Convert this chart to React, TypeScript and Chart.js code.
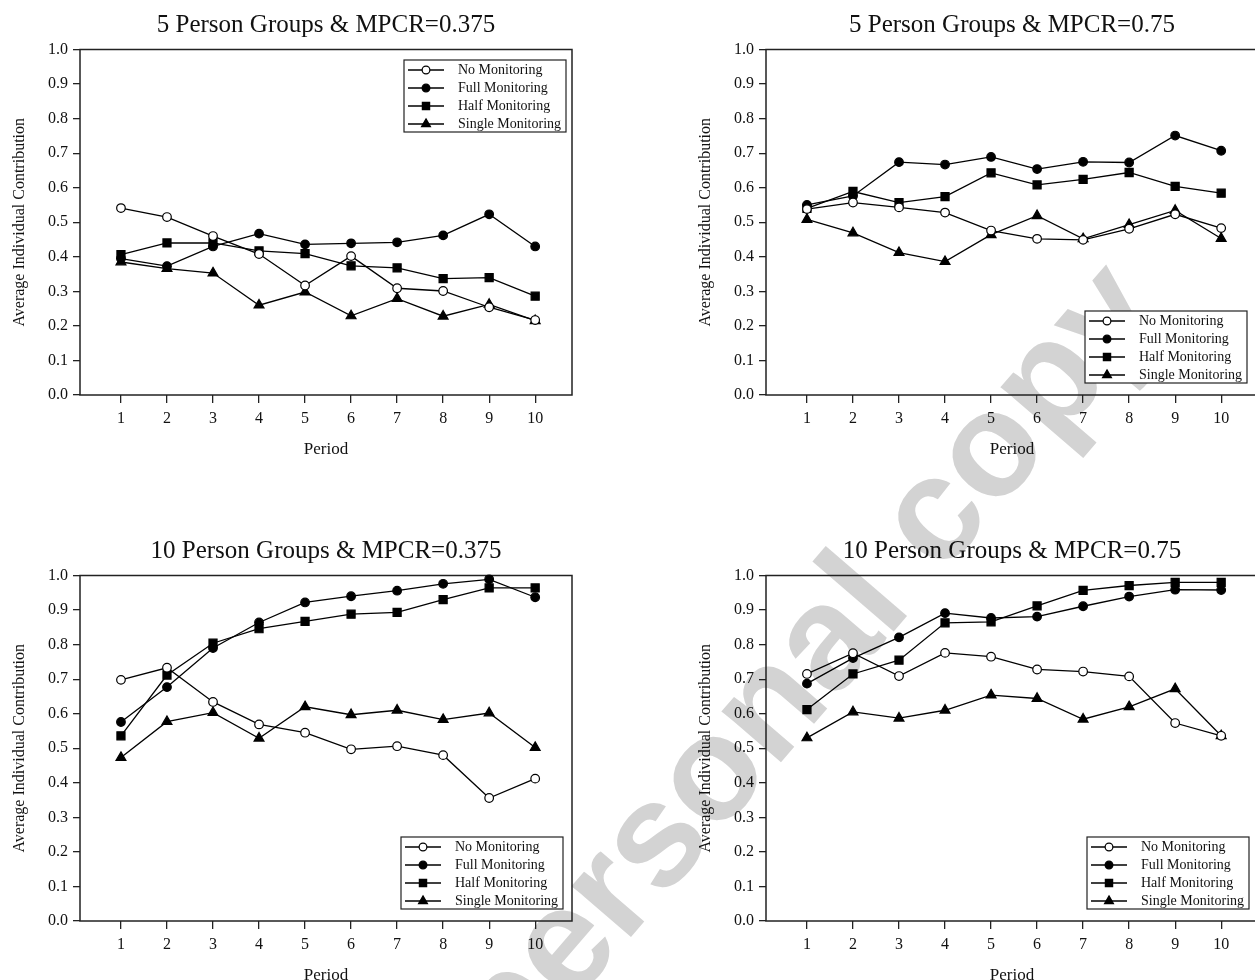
import React, { useEffect, useRef } from "react";
import { Chart, registerables } from "chart.js";

Chart.register(...registerables);

// ---------- data ----------
const periods = [1, 2, 3, 4, 5, 6, 7, 8, 9, 10];
const yTickValues = [0, 0.1, 0.2, 0.3, 0.4, 0.5, 0.6, 0.7, 0.8, 0.9, 1.0];
const seriesNames = ["No Monitoring", "Full Monitoring", "Half Monitoring", "Single Monitoring"];
const panelTitles = [
  "5 Person Groups & MPCR=0.375",
  "5 Person Groups & MPCR=0.75",
  "10 Person Groups & MPCR=0.375",
  "10 Person Groups & MPCR=0.75",
];
const xAxisTitle = "Period";
const yAxisTitle = "Average Individual Contribution";
const watermarkText = "personal copy";

// 5 Person Groups & MPCR=0.375
const noA = [0.541, 0.515, 0.46, 0.408, 0.317, 0.402, 0.309, 0.301, 0.254, 0.217];
const fullA = [0.395, 0.373, 0.43, 0.467, 0.436, 0.439, 0.442, 0.462, 0.523, 0.43];
const halfA = [0.406, 0.44, 0.44, 0.417, 0.409, 0.374, 0.368, 0.337, 0.34, 0.286];
const singleA = [0.385, 0.366, 0.353, 0.26, 0.298, 0.229, 0.279, 0.228, 0.262, 0.215];

// 5 Person Groups & MPCR=0.75
const noB = [0.538, 0.557, 0.543, 0.528, 0.476, 0.452, 0.449, 0.481, 0.523, 0.483];
const fullB = [0.55, 0.576, 0.674, 0.667, 0.689, 0.654, 0.675, 0.673, 0.751, 0.707];
const halfB = [0.54, 0.589, 0.557, 0.574, 0.643, 0.608, 0.624, 0.644, 0.604, 0.584];
const singleB = [0.508, 0.469, 0.412, 0.386, 0.464, 0.519, 0.452, 0.493, 0.534, 0.453];

// 10 Person Groups & MPCR=0.375
const noC = [0.698, 0.733, 0.634, 0.569, 0.545, 0.497, 0.506, 0.48, 0.356, 0.412];
const fullC = [0.576, 0.677, 0.79, 0.864, 0.922, 0.94, 0.956, 0.976, 0.989, 0.937];
const halfC = [0.536, 0.712, 0.804, 0.846, 0.867, 0.888, 0.893, 0.93, 0.964, 0.964];
const singleC = [0.473, 0.577, 0.603, 0.529, 0.62, 0.597, 0.61, 0.583, 0.602, 0.502];

// 10 Person Groups & MPCR=0.75
const noD = [0.715, 0.775, 0.709, 0.776, 0.765, 0.728, 0.722, 0.708, 0.573, 0.536];
const fullD = [0.687, 0.761, 0.821, 0.891, 0.877, 0.881, 0.911, 0.939, 0.959, 0.958];
const halfD = [0.612, 0.715, 0.755, 0.863, 0.866, 0.912, 0.957, 0.971, 0.98, 0.98];
const singleD = [0.53, 0.605, 0.587, 0.61, 0.654, 0.644, 0.584, 0.62, 0.672, 0.536];

// ---------- styles ----------
const SERIF = "'Liberation Serif', 'Times New Roman', serif";
const INK = "#111";
const FRAME = "#222";

const markerStyles = [
  { pointStyle: "circle", radius: 4.3, fill: "#ffffff" },
  { pointStyle: "circle", radius: 4.3, fill: "#000000" },
  { pointStyle: "rect", radius: 5.7, fill: "#000000" },
  { pointStyle: "triangle", radius: 5.7, fill: "#000000" },
];

const CW = 627;
const CH = 480;

const panels = [
  { title: panelTitles[0], series: [noA, fullA, halfA, singleA], left: 0, top: 0, legend: { pos: "top", inset: 10.5, right: 6 } },
  { title: panelTitles[1], series: [noB, fullB, halfB, singleB], left: 686, top: 0, legend: { pos: "bottom", inset: 12, right: 11 } },
  { title: panelTitles[2], series: [noC, fullC, halfC, singleC], left: 0, top: 526, legend: { pos: "bottom", inset: 12, right: 9 } },
  { title: panelTitles[3], series: [noD, fullD, halfD, singleD], left: 686, top: 526, legend: { pos: "bottom", inset: 12, right: 9 } },
];

function drawMarker(ctx: CanvasRenderingContext2D, style: string, x: number, y: number, r: number, fill: string) {
  ctx.beginPath();
  if (style === "circle") {
    ctx.arc(x, y, r, 0, Math.PI * 2);
  } else if (style === "rect") {
    const s = r * Math.SQRT1_2;
    ctx.rect(x - s, y - s, 2 * s, 2 * s);
  } else {
    ctx.moveTo(x, y - r);
    ctx.lineTo(x + r * Math.sin((2 * Math.PI) / 3), y - r * Math.cos((2 * Math.PI) / 3));
    ctx.lineTo(x + r * Math.sin((4 * Math.PI) / 3), y - r * Math.cos((4 * Math.PI) / 3));
    ctx.closePath();
  }
  ctx.fillStyle = fill;
  ctx.fill();
  ctx.lineWidth = 1.2;
  ctx.strokeStyle = "#000";
  ctx.stroke();
}

const framePlugin = {
  id: "frame",
  beforeDatasetsDraw(chart: any) {
    const { ctx, chartArea } = chart;
    ctx.save();
    ctx.strokeStyle = FRAME;
    ctx.lineWidth = 1.5;
    ctx.strokeRect(chartArea.left, chartArea.top, chartArea.right - chartArea.left, chartArea.bottom - chartArea.top);
    ctx.restore();
  },
};

const boxLegendPlugin = {
  id: "boxLegend",
  afterDatasetsDraw(chart: any, _args: any, opts: any) {
    const { ctx, chartArea } = chart;
    const w = 162;
    const h = 72;
    const x = chartArea.right - opts.right - w;
    const y = opts.pos === "top" ? chartArea.top + opts.inset : chartArea.bottom - opts.inset - h;
    ctx.save();
    ctx.fillStyle = "#fff";
    ctx.fillRect(x, y, w, h);
    ctx.strokeStyle = FRAME;
    ctx.lineWidth = 1.2;
    ctx.strokeRect(x, y, w, h);
    ctx.font = `14px ${SERIF}`;
    ctx.textBaseline = "middle";
    ctx.textAlign = "left";
    chart.data.datasets.forEach((ds: any, i: number) => {
      const cy = y + 10 + i * 18;
      ctx.beginPath();
      ctx.moveTo(x + 4, cy);
      ctx.lineTo(x + 40, cy);
      ctx.lineWidth = 1.6;
      ctx.strokeStyle = "#000";
      ctx.stroke();
      const m = markerStyles[i];
      drawMarker(ctx, m.pointStyle, x + 22, cy, m.radius * 0.9, m.fill);
      ctx.fillStyle = INK;
      ctx.fillText(ds.label, x + 54, cy + 0.5);
    });
    ctx.restore();
  },
};

function Panel({ cfg }: { cfg: any }) {
  const ref = useRef<HTMLCanvasElement>(null);
  useEffect(() => {
    const canvas = ref.current!;
    const chart = new Chart(canvas, {
      type: "line",
      data: {
        datasets: cfg.series.map((vals: number[], i: number) => ({
          label: seriesNames[i],
          data: periods.map((p, j) => ({ x: p, y: vals[j] })),
          borderColor: "#000",
          borderWidth: 1.3,
          pointStyle: markerStyles[i].pointStyle,
          pointRadius: markerStyles[i].radius,
          pointBackgroundColor: markerStyles[i].fill,
          pointBorderColor: "#000",
          pointBorderWidth: 1.2,
          fill: false,
          tension: 0,
          clip: false,
        })),
      },
      options: {
        animation: false,
        responsive: false,
        devicePixelRatio: 1,
        layout: { padding: { left: 0, right: CW - 572, top: 0, bottom: 0 } },
        plugins: {
          legend: { display: false },
          tooltip: { enabled: false },
          title: {
            display: true,
            fullSize: false,
            text: cfg.title,
            color: INK,
            font: { family: SERIF, size: 25, weight: "normal", lineHeight: 1.2 },
            padding: { top: 10.5, bottom: 9 },
          },
          boxLegend: cfg.legend,
        } as any,
        scales: {
          x: {
            type: "linear",
            min: 0.11,
            max: 10.8,
            afterBuildTicks: (s: any) => {
              s.ticks = periods.map((v) => ({ value: v }));
            },
            afterFit: (s: any) => {
              s.height = CH - 395;
            },
            grid: { display: true, drawOnChartArea: false, drawTicks: true, tickLength: 8, color: FRAME, lineWidth: 1.3 },
            border: { display: false },
            ticks: {
              color: INK,
              font: { family: SERIF, size: 16 },
              padding: 6,
              maxRotation: 0,
              autoSkip: false,
              callback: (v: any) => String(v),
            },
            title: {
              display: true,
              text: xAxisTitle,
              color: INK,
              font: { family: SERIF, size: 17 },
              padding: { top: 0, bottom: 20.5 },
            },
          },
          y: {
            type: "linear",
            min: 0,
            max: 1,
            afterBuildTicks: (s: any) => {
              s.ticks = yTickValues.map((v) => ({ value: v }));
            },
            afterFit: (s: any) => {
              s.width = 80;
            },
            grid: { display: true, drawOnChartArea: false, drawTicks: true, tickLength: 7, color: FRAME, lineWidth: 1.3 },
            border: { display: false },
            ticks: {
              color: INK,
              font: { family: SERIF, size: 16 },
              padding: 5,
              callback: (v: any) => Number(v).toFixed(1),
            },
            title: {
              display: true,
              text: yAxisTitle,
              color: INK,
              font: { family: SERIF, size: 16 },
              padding: { top: 10, bottom: 0 },
            },
          },
        },
      } as any,
      plugins: [framePlugin, boxLegendPlugin],
    });
    return () => chart.destroy();
  }, [cfg]);
  return (
    <canvas
      ref={ref}
      width={CW}
      height={CH}
      style={{ position: "absolute", left: cfg.left, top: cfg.top, width: CW, height: CH, zIndex: 1 }}
    />
  );
}

export default function App() {
  return (
    <div
      style={{
        position: "absolute",
        left: 0,
        top: 0,
        width: 1255,
        height: 980,
        overflow: "hidden",
        background: "#fff",
      }}
    >
      <div
        style={{
          position: "absolute",
          left: 800,
          top: 662,
          transform: "translate(-50%, -50%) rotate(-49.3deg)",
          whiteSpace: "nowrap",
          fontFamily: "'Liberation Sans', Arial, sans-serif",
          fontWeight: "bold",
          fontSize: 148,
          lineHeight: 1,
          color: "#d3d3d3",
          zIndex: 0,
          userSelect: "none",
        }}
      >
        {watermarkText}
      </div>
      {panels.map((p, i) => (
        <Panel key={i} cfg={p} />
      ))}
    </div>
  );
}
